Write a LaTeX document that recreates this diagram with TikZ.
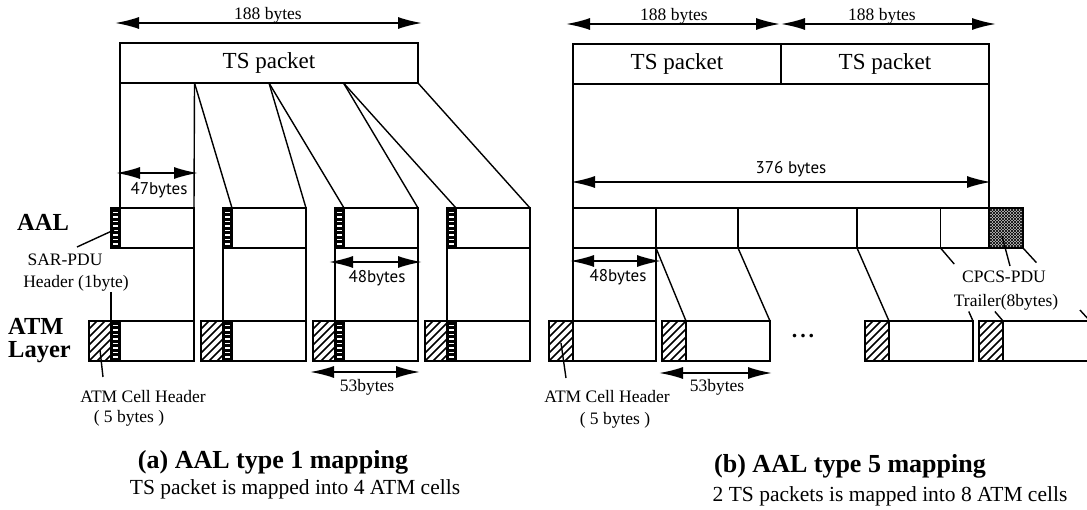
\documentclass[tikz,border=0pt]{standalone}
\usepackage{fontspec}
\setmainfont{Liberation Serif}
\newfontfamily\dimfont{PT Sans}
\usetikzlibrary{arrows.meta,calc}
\begin{document}
\begin{tikzpicture}[x=1pt,y=-1pt,
  box/.style={draw, line width=1.8pt, inner sep=0pt, outer sep=0pt, anchor=north west, minimum height=40pt},
  sarhdr/.style={box, fill=black, path picture={
      \foreach \k in {4,8.5,...,38} \draw[white, line width=1.4pt]
        ([xshift=2.3pt,yshift=\k pt]path picture bounding box.south west) -- ++(4.5pt,0pt);}},
  atmhdr/.style={box, path picture={
      \foreach \k in {-48,-40,...,30} \draw[line width=1.6pt]
        ([xshift=\k pt]path picture bounding box.south west) -- ++(45:90pt);}},
  trailer/.style={box, fill=gray!45, path picture={
      \foreach \k in {-48,-45,...,40} {\draw[line width=0.6pt]
        ([xshift=\k pt]path picture bounding box.south west) -- ++(45:90pt);
        \draw[line width=0.6pt]
        ([xshift=\k pt]path picture bounding box.north west) -- ++(-45:90pt);}}},
  conn/.style={line width=1.4pt},
  dimarr/.style={line width=1.8pt, {Latex[length=24pt,width=12pt]}-{Latex[length=24pt,width=12pt]}},
  lab/.style={font=\fontsize{17.5}{19}\selectfont, inner sep=0pt},
  dimlab/.style={font=\dimfont\fontsize{17}{19}\selectfont, inner sep=0pt},
  tslab/.style={font=\fontsize{23}{25}\selectfont},
  layerlab/.style={font=\bfseries\fontsize{24.5}{23}\selectfont, inner sep=0pt, align=left},
  ttl/.style={font=\bfseries\fontsize{26}{28}\selectfont, inner sep=0pt},
  subttl/.style={font=\fontsize{21.5}{23}\selectfont, inner sep=0pt}]
\clip (0,0) rectangle (1087,510);
\fill[white] (0,0) rectangle (1087,510);

% ================= (a) AAL type 1 =================
\node[box, minimum width=298pt, tslab] (ts) at (120,43) {TS packet};
\coordinate (s1) at ($(ts.south west)!0.25!(ts.south east)$);
\coordinate (s2) at ($(ts.south west)!0.5!(ts.south east)$);
\coordinate (s3) at ($(ts.south west)!0.75!(ts.south east)$);

\foreach \i/\h in {1/89,2/201,3/313,4/425}{
  \node[sarhdr, minimum width=9pt] (ah\i) at (\h+22,208) {};
  \node[box, minimum width=74pt] (ad\i) at (\h+31,208) {};
  \node[atmhdr, minimum width=22pt] (th\i) at (\h,321) {};
  \node[sarhdr, minimum width=9pt] (ms\i) at (\h+22,321) {};
  \node[box, minimum width=74pt] (td\i) at (\h+31,321) {};
}

\draw[conn] (ts.south west) -- (ad1.north west);
\draw[conn] (s1) -- (ad1.north east);
\draw[conn] (s1) -- (ad2.north west);
\draw[conn] (s2) -- (ad2.north east);
\draw[conn] (s2) -- (ad3.north west);
\draw[conn] (s3) -- (ad3.north east);
\draw[conn] (s3) -- (ad4.north west);
\draw[conn] (ts.south east) -- (ad4.north east);

\coordinate (c1top) at (111,292);
\draw[conn] (c1top) -- (ms1.north west);
\draw[conn] (ad1.south east) -- (td1.north east);
\foreach \i in {2,3,4}{
  \draw[conn] (ah\i.south west) -- (ms\i.north west);
  \draw[conn] (ad\i.south east) -- (td\i.north east);
}

% dimension arrows (a)
\coordinate (a188l) at (115,23); \coordinate (a188r) at (422,23);
\draw[dimarr] (a188l) -- (a188r);
\node[lab, anchor=base] (l188a) at (268,20) {188 bytes};
\coordinate (a47l) at (116,173); \coordinate (a47r) at (198,173);
\draw[dimarr] (a47l) -- (a47r);
\node[dimlab] (l47) at (159,190) {47bytes};
\coordinate (a48l) at (329,262); \coordinate (a48r) at (422,262);
\draw[dimarr] (a48l) -- (a48r);
\node[dimlab] (l48a) at (377,278) {48bytes};
\coordinate (a53l) at (310,372); \coordinate (a53r) at (420,372);
\draw[dimarr] (a53l) -- (a53r);
\node[lab] (l53a) at (367,387) {53bytes};

% labels (a)
\node[layerlab] (aal) at (43,222) {AAL};
\node[layerlab, anchor=west] (atml) at (8,341) {ATM\\Layer};
\node[lab] (sar1) at (65,260) {SAR-PDU};
\node[lab] (sar2) at (76,283) {Header (1byte)};
\coordinate (sarA) at (114,230); \coordinate (sarB) at (77,247);
\draw[conn] (sarA) -- (sarB);
\node[lab] (ach1) at (143,397) {ATM Cell Header};
\node[lab] (ach2) at (129,418) {( 5 bytes )};
\coordinate (achA) at (100,350); \coordinate (achB) at (103,377);
\draw[conn] (achA) -- (achB);
\node[ttl] (ta) at (273,462) {(a) AAL type 1 mapping};
\node[subttl] (sa) at (295,489) {TS packet is mapped into 4 ATM cells};

% ================= (b) AAL type 5 =================
\node[box, minimum width=208pt, tslab] (tsb1) at (573,44) {TS packet};
\node[box, minimum width=208pt, tslab] (tsb2) at (781,44) {TS packet};

\node[box, minimum width=83pt] (b1) at (573,208) {};
\node[box, minimum width=82pt] (b2) at (656,208) {};
\node[box, minimum width=119pt] (b3) at (738,208) {};
\node[box, minimum width=83.5pt] (b4) at (857,208) {};
\node[box, minimum width=48.5pt] (b5) at (940.5,208) {};
\node[trailer, minimum width=34pt] (tr) at (989,208) {};

\draw[conn] (tsb1.south west) -- (b1.north west);
\draw[conn] (tsb2.south east) -- (b5.north east);

\node[atmhdr, minimum width=24pt] (c1h) at (549,321) {};
\node[box, minimum width=83pt] (c1) at (573,321) {};
\node[atmhdr, minimum width=24pt] (c2h) at (662,321) {};
\node[box, minimum width=84pt] (c2) at (686,321) {};
\node[atmhdr, minimum width=24pt] (c7h) at (865,321) {};
\node[box, minimum width=84pt] (c7) at (889,321) {};
\node[atmhdr, minimum width=24pt] (c8h) at (979,321) {};
\node[box, minimum width=87pt] (c8) at (1003,321) {};

\draw[conn] (b1.south west) -- (c1.north west);
\draw[conn] (b1.south east) -- (c1.north east);
\draw[conn] (b2.south west) -- (c2.north west);
\draw[conn] (b2.south east) -- (c2.north east);
\draw[conn] (b4.south west) -- (c7.north west);
\draw[conn] (b5.south west) -- ($(b5.south west)!0.22!(c8.north west)$);
\draw[conn] ($(b5.south west)!0.87!(c8.north west)$) -- (c8.north west);
\draw[conn] ($(b5.south west)!0.87!(c7.north east)$) -- (c7.north east);
\draw[conn] (tr.south east) -- ($(tr.south east)!0.2!(c8.north east)$);
\draw[conn] ($(tr.south east)!0.85!(c8.north east)$) -- (c8.north east);

% dimension arrows (b)
\coordinate (b188a) at (566,24); \coordinate (b188b) at (780,24);
\coordinate (b188c) at (781,24); \coordinate (b188d) at (996,24);
\draw[dimarr] (b188a) -- (b188b);
\draw[dimarr] (b188c) -- (b188d);
\node[lab, anchor=base] (l188b) at (674,21) {188 bytes};
\node[lab, anchor=base] (l188c) at (882,21) {188 bytes};
\coordinate (a376l) at (571,182); \coordinate (a376r) at (991,182);
\draw[dimarr] (a376l) -- (a376r);
\node[dimlab, anchor=base] (l376) at (791,174) {376 bytes};
\coordinate (b48l) at (570,261); \coordinate (b48r) at (661,261);
\draw[dimarr] (b48l) -- (b48r);
\node[dimlab] (l48b) at (618,277) {48bytes};
\coordinate (b53l) at (659,373); \coordinate (b53r) at (772,373);
\draw[dimarr] (b53l) -- (b53r);
\node[lab] (l53b) at (717,387) {53bytes};

\node[font=\bfseries\fontsize{22}{22}\selectfont, inner sep=0pt] (dots) at (803,336) {.\hspace{3pt}.\hspace{3pt}.};

\node[lab] (bch1) at (607,397) {ATM Cell Header};
\node[lab] (bch2) at (615,420) {( 5 bytes )};
\coordinate (bchA) at (561,343); \coordinate (bchB) at (566,378);
\draw[conn] (bchA) -- (bchB);
\node[lab] (cp1) at (1004,277) {CPCS-PDU};
\node[lab] (cp2) at (1006,302) {Trailer(8bytes)};
\coordinate (cpA) at (1002,236); \coordinate (cpB) at (1010,266);
\draw[conn] (cpA) -- (cpB);

\node[ttl] (tb) at (850,466) {(b) AAL type 5 mapping};
\node[subttl] (sb) at (890,496) {2 TS packets is mapped into 8 ATM cells};
\end{tikzpicture}
\end{document}
